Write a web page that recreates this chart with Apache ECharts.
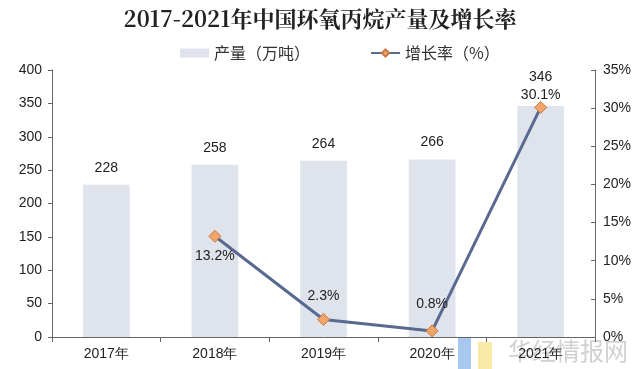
<!DOCTYPE html>
<html><head><meta charset="utf-8">
<script src="https://cdn.jsdelivr.net/npm/echarts@6/dist/echarts.min.js"></script>
<style>html,body{margin:0;padding:0;background:#fff}#c{width:640px;height:369px}</style>
</head><body><div id="c"></div>
<script>
const categories = ['2017年','2018年','2019年','2020年','2021年'];
const output = [228, 258, 264, 266, 346];
const growth = [null, 13.2, 2.3, 0.8, 30.1];
const leftTicks = [0, 400, 50];
const rightTicks = [0, 35, 5];

const chart = echarts.init(document.getElementById('c'));
const axisFont = {color:'#222', fontSize:14, fontFamily:'Arial, "Liberation Sans", sans-serif'};
chart.setOption({
  animation:false,
  title:{text:'2017-2021年中国环氧丙烷产量及增长率', left:'center', top:3,
    textStyle:{fontFamily:'"Noto Serif CJK SC","Noto Sans CJK SC",serif', fontSize:22, fontWeight:'bold', color:'#222'}},
  legend:{top:40, left:175, itemGap:60, itemWidth:29, itemHeight:9,
    textStyle:{fontSize:16, color:'#333', fontFamily:'"Noto Sans CJK SC",sans-serif'},
    data:[{name:'产量（万吨）', icon:'rect'}, {name:'增长率（%）'}]},
  grid:{left:52, right:45, top:70, bottom:32},
  xAxis:{type:'category', data:categories,
    axisLine:{lineStyle:{color:'#666'}}, axisTick:{show:true, alignWithLabel:false, lineStyle:{color:'#666'}},
    axisLabel:Object.assign({margin:10}, axisFont)},
  yAxis:[
    {type:'value', min:leftTicks[0], max:leftTicks[1], interval:leftTicks[2],
      axisLine:{show:true, lineStyle:{color:'#666'}}, axisTick:{show:true, length:4, lineStyle:{color:'#666'}},
      splitLine:{show:false}, axisLabel:Object.assign({margin:10}, axisFont)},
    {type:'value', min:rightTicks[0], max:rightTicks[1], interval:rightTicks[2], position:'right',
      axisLine:{show:true, lineStyle:{color:'#666'}}, axisTick:{show:true, inside:true, length:4, lineStyle:{color:'#666'}},
      splitLine:{show:false}, axisLabel:Object.assign({margin:8, formatter:'{value}%'}, axisFont)}
  ],
  series:[
    {name:'产量（万吨）', type:'bar', barWidth:'43%',
      itemStyle:{color:'#dfe3ec'},
      label:{show:true, position:'top', distance:10, color:'#222', fontSize:14, fontFamily:'Arial, sans-serif'},
      data:output.map((v,i)=> i===4 ? {value:v, label:{distance:22}} : v)},
    {name:'增长率（%）', type:'line', yAxisIndex:1,
      symbol:'diamond', symbolSize:12,
      lineStyle:{color:'#5a6990', width:3},
      itemStyle:{color:'#f2a56a', borderColor:'#c97a3e', borderWidth:1},
      label:{show:true, color:'#222', fontSize:14, fontFamily:'Arial, sans-serif',
        formatter:p=>p.value+'%', position:'top', distance:10},
      data:growth.map((v,i)=>{
        if(v===null) return v;
        if(i===1) return {value:v, label:{position:'bottom', distance:6}};
        if(i===3) return {value:v, label:{position:'top', distance:13}};
        if(i===4) return {value:v, label:{position:'inside', offset:[0,-12]}};
        return v;
      })}
  ],
  graphic:[
    {type:'rect', left:458, top:338, shape:{width:13, height:31}, style:{fill:'#a9c8f0'}},
    {type:'rect', left:478, top:342, shape:{width:14, height:27}, style:{fill:'#fbe9a8'}},
    {type:'text', left:508, top:339, style:{text:'华经情报网', fontSize:24, fill:'rgba(150,150,150,0.45)', fontFamily:'"Noto Sans CJK SC",sans-serif'}}
  ]
});
</script></body></html>
